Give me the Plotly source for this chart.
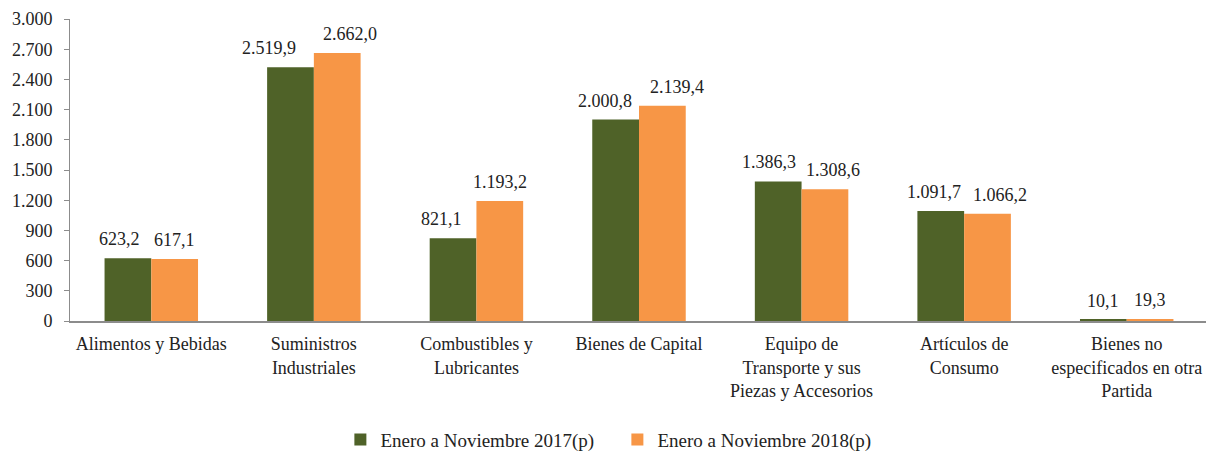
import plotly.graph_objects as go

categories = ["Alimentos y Bebidas", "Suministros<br>Industriales", "Combustibles y<br>Lubricantes",
              "Bienes de Capital", "Equipo de<br>Transporte y sus<br>Piezas y Accesorios",
              "Artículos de<br>Consumo", "Bienes no<br>especificados en otra<br>Partida"]
serie_2017 = [623.2, 2519.9, 821.1, 2000.8, 1386.3, 1091.7, 10.1]
serie_2018 = [617.1, 2662.0, 1193.2, 2139.4, 1308.6, 1066.2, 19.3]
name_2017 = "Enero a Noviembre 2017(p)"
name_2018 = "Enero a Noviembre 2018(p)"
y_ticks = [0, 300, 600, 900, 1200, 1500, 1800, 2100, 2400, 2700, 3000]

# horizontal nudges (px) of value labels, as placed in the original to avoid overlap
label_nudge_2017 = [-8, -21, -12, -11, -9, -7, 0]
label_nudge_2018 = [0, 13, 0, 15, 8, 12, 0]

FONT = "Liberation Serif"
W, H = 1206, 445
ML, MR, MT, MB = 62, 6, 11, 132
BARGAP = 0.425


def fmt_es(v):
    return f"{v:,.1f}".replace(",", "X").replace(".", ",").replace("X", ".")


fig = go.Figure()
series = [(name_2017, serie_2017, "#4F6228", label_nudge_2017),
          (name_2018, serie_2018, "#F79646", label_nudge_2018)]
for name, vals, color, _ in series:
    fig.add_trace(go.Bar(x=categories, y=vals, name=name, marker_color=color,
                         marker_line_width=0))

# value labels above bars (annotations anchored on data values, shifted to each bar of the group)
cat_px = (W - ML - MR) / len(categories)
bar_px = cat_px * (1 - BARGAP) / len(series)
for k, (name, vals, color, nudges) in enumerate(series):
    shift = (k - (len(series) - 1) / 2) * bar_px
    for c, v, dx in zip(categories, vals, nudges):
        fig.add_annotation(x=c, y=v, text=fmt_es(v), showarrow=False,
                           xshift=shift + dx, yshift=7, yanchor="bottom",
                           font=dict(family=FONT, size=18, color="#222222"))

fig.update_layout(
    width=W, height=H,
    margin=dict(l=ML, r=MR, t=MT, b=MB),
    paper_bgcolor="white", plot_bgcolor="white",
    barmode="group", bargap=BARGAP, bargroupgap=0,
    separators=",.",
    font=dict(family=FONT, size=17, color="#222222"),
    legend=dict(orientation="h", x=0.481, xanchor="center", yref="container", y=0.03,
                yanchor="middle", font=dict(family=FONT, size=19), itemwidth=30,
                entrywidth=232, tracegroupgap=0),
    xaxis=dict(showline=True, linecolor="#8c8c8c", linewidth=1.5, ticks="",
               tickfont=dict(family=FONT, size=18), showgrid=False,
               ticklabelstandoff=6, automargin=False),
    yaxis=dict(range=[0, 3000], tickvals=y_ticks, tickformat=",.0f",
               showline=True, linecolor="#8c8c8c", linewidth=1, ticks="outside",
               ticklen=5, tickcolor="#8c8c8c", showgrid=False, zeroline=False,
               tickfont=dict(family=FONT, size=18), ticklabelstandoff=8,
               ticklabeloverflow="allow", automargin=False),
)

fig.write_html("out.html")
